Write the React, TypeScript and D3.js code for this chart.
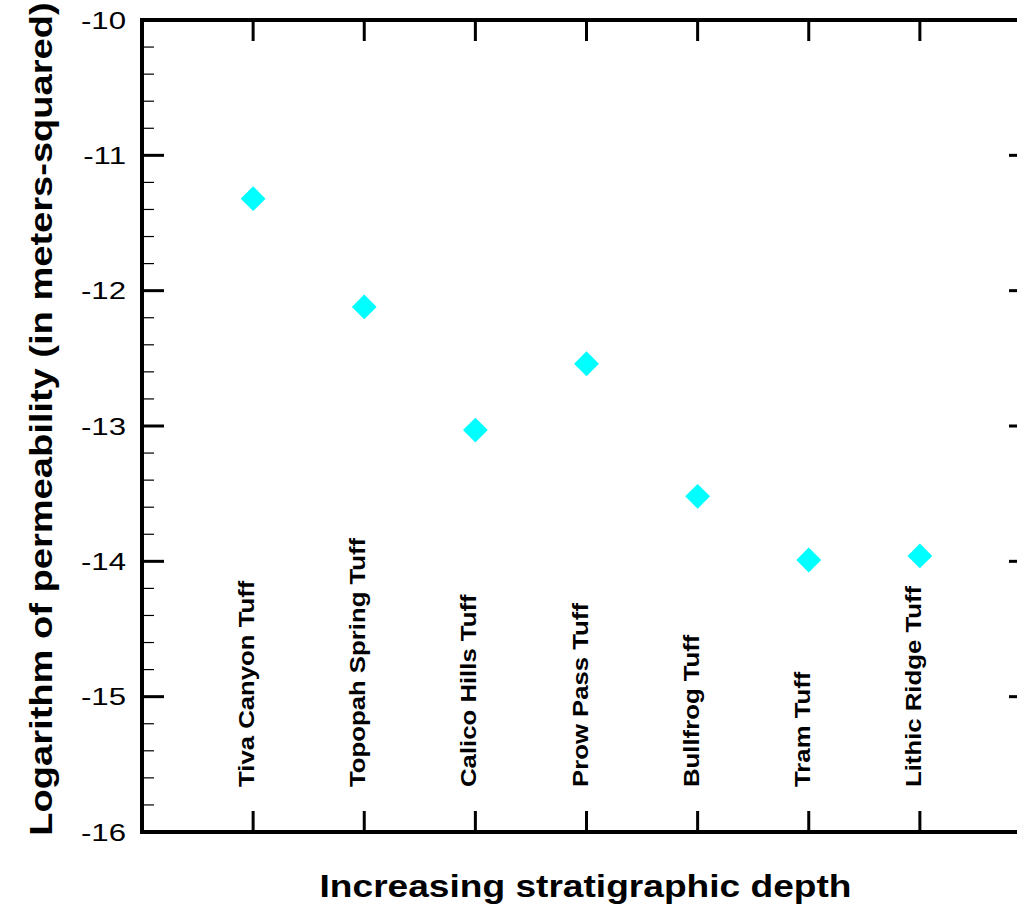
import React from "react";
import * as d3 from "d3";

const categories = [
  "Tiva Canyon Tuff",
  "Topopah Spring Tuff",
  "Calico Hills Tuff",
  "Prow Pass Tuff",
  "Bullfrog Tuff",
  "Tram Tuff",
  "Lithic Ridge Tuff",
];
const logPermeability = [-11.32, -12.12, -13.03, -12.54, -13.52, -13.99, -13.96];
const yTicks = [-16, -15, -14, -13, -12, -11, -10];

const totalWidth = 1017;
const totalHeight = 909;
const margin = { left: 142, top: 20, right: -14, bottom: 77 };

export default function App() {
  const width = totalWidth - margin.left - margin.right;
  const height = totalHeight - margin.top - margin.bottom;

  // categories sit at 1..7 on a 0..8 axis, right frame falls outside the picture
  const xScale = d3.scaleLinear().domain([0, categories.length + 1]).range([0, width]);
  const yScale = d3.scaleLinear().domain([-16, -10]).range([height, 0]);

  const minorTicks = d3
    .range(-16, -10.001, 0.2)
    .filter((v) => Math.abs(v - Math.round(v)) > 0.01);

  const diamond = d3.symbol().type(d3.symbolDiamond2).size(2 * 14 * 14)();
  const font = "'Liberation Sans', Arial, sans-serif";
  // the original glyphs are wider than Arial's
  const stretch = 1.16;

  return (
    <svg
      width={totalWidth}
      height={totalHeight}
      style={{ position: "absolute", left: 0, top: 0, background: "white" }}
    >
      <g transform={`translate(${margin.left}, ${margin.top})`}>
        {/* minor ticks, left and right */}
        {minorTicks.map((v) => (
          <g key={"m" + v}>
            <line x1={0} x2={12} y1={yScale(v)} y2={yScale(v)} stroke="black" strokeWidth={1.2} />
            <line x1={width} x2={width - 12} y1={yScale(v)} y2={yScale(v)} stroke="black" strokeWidth={1.2} />
          </g>
        ))}
        {/* major y ticks + labels */}
        {yTicks.map((v) => (
          <g key={"y" + v}>
            <line x1={0} x2={22} y1={yScale(v)} y2={yScale(v)} stroke="black" strokeWidth={3} />
            <line x1={width} x2={width - 22} y1={yScale(v)} y2={yScale(v)} stroke="black" strokeWidth={3} />
            <text
              transform={`translate(-16, ${yScale(v)}) scale(1.3, 1)`}
              dy="0.36em"
              textAnchor="end"
              style={{ fontFamily: font, fontSize: 24, fill: "black" }}
            >
              {v}
            </text>
          </g>
        ))}
        {/* category ticks top and bottom */}
        {categories.map((c, i) => (
          <g key={"x" + c}>
            <line x1={xScale(i + 1)} x2={xScale(i + 1)} y1={height} y2={height - 21} stroke="black" strokeWidth={3} />
            <line x1={xScale(i + 1)} x2={xScale(i + 1)} y1={0} y2={21} stroke="black" strokeWidth={3} />
            <text
              transform={`translate(${xScale(i + 1) + 1}, ${height - 45}) rotate(-90) scale(1.17, 1)`}
              style={{ fontFamily: font, fontSize: 22, fontWeight: "bold", fill: "black" }}
            >
              {c}
            </text>
          </g>
        ))}
        {/* frame */}
        <rect x={0} y={0} width={width} height={height} fill="none" stroke="black" strokeWidth={4} />
        {/* data */}
        {logPermeability.map((v, i) => (
          <path
            key={"d" + i}
            d={diamond}
            transform={`translate(${xScale(i + 1)}, ${yScale(v)})`}
            fill="#00ffff"
          />
        ))}
        <text
          transform={`translate(${width / 2 - 1}, ${height + 65}) scale(${stretch}, 1)`}
          textAnchor="middle"
          style={{ fontFamily: font, fontSize: 32, fontWeight: "bold", fill: "black" }}
        >
          Increasing stratigraphic depth
        </text>
      </g>
      <text
        transform={`translate(52, 419) rotate(-90) scale(1.19, 1)`}
        textAnchor="middle"
        style={{ fontFamily: font, fontSize: 32, fontWeight: "bold", fill: "black" }}
      >
        Logarithm of permeability (in meters-squared)
      </text>
    </svg>
  );
}
